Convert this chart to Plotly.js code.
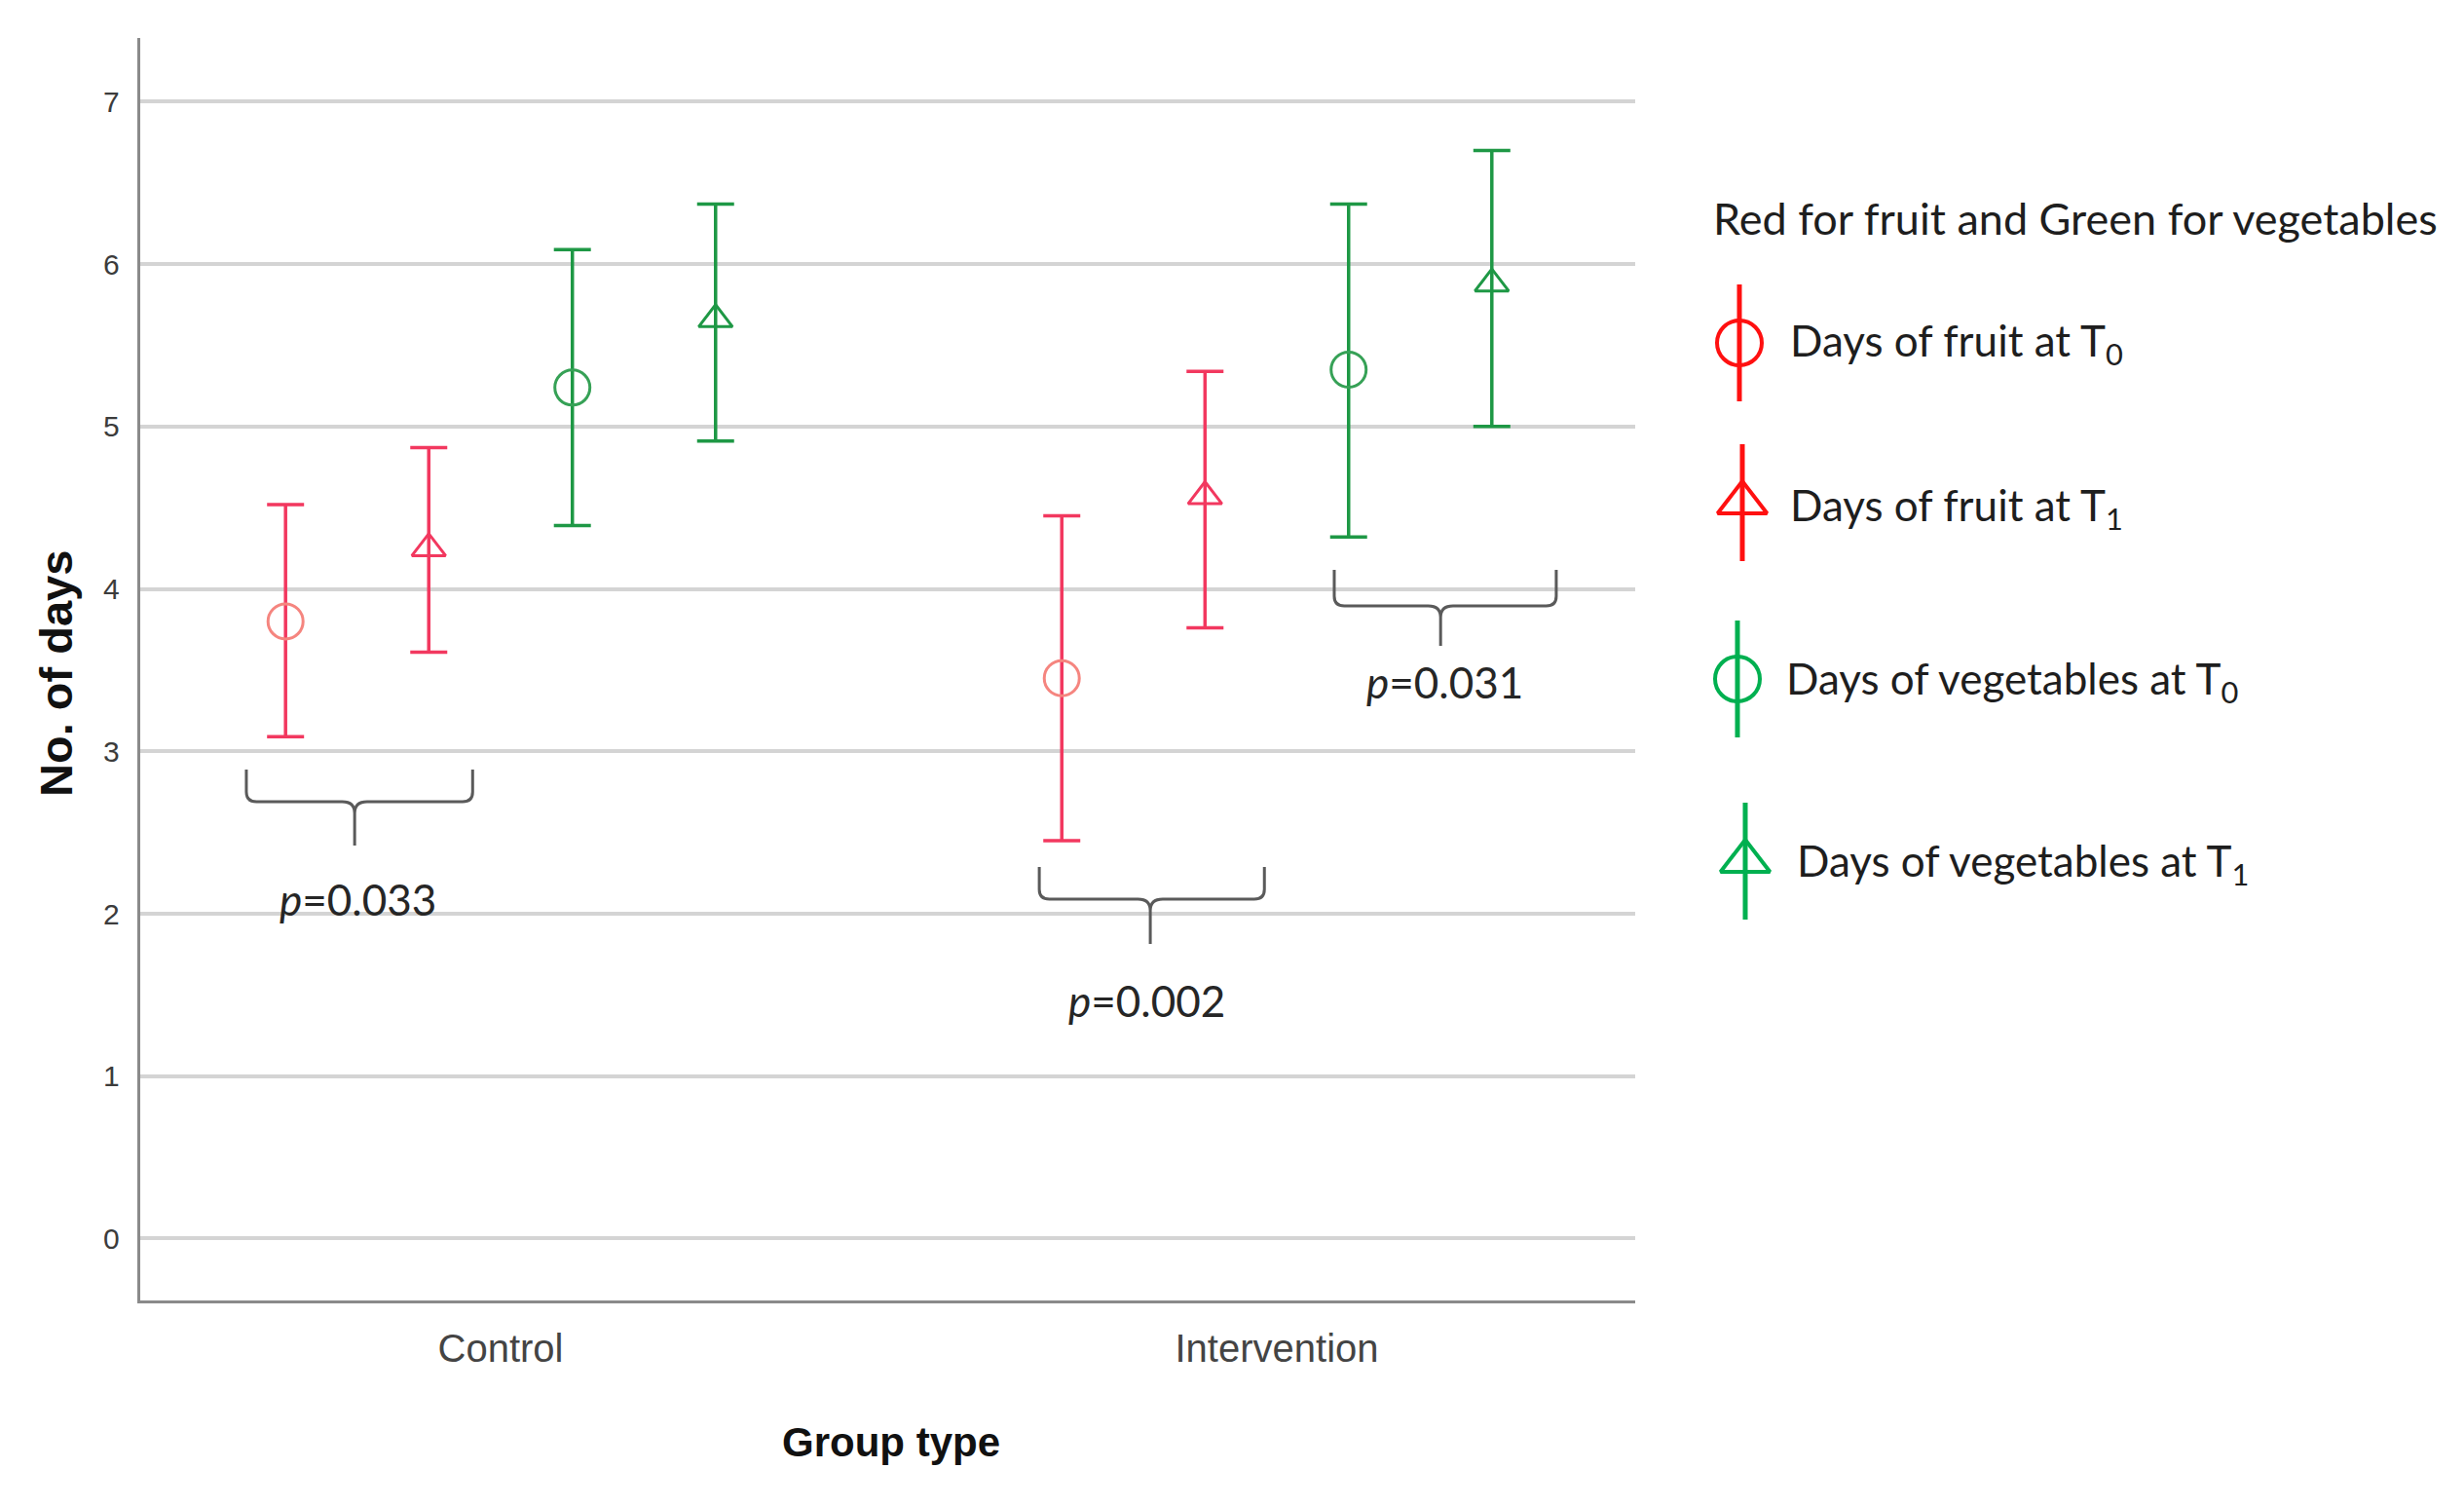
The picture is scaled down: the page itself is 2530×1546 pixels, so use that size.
<!DOCTYPE html>
<html><head><meta charset="utf-8">
<script src="https://cdn.plot.ly/plotly-3.0.1.min.js"></script>
<style>html,body{margin:0;padding:0;background:#fff}#chart{width:2530px;height:1546px}</style>
</head><body><div id="chart"></div>
<script>
// ---------------- data ----------------
const groups = ['Control', 'Intervention'];
const seriesLabels = ['Days of fruit at T<sub>0</sub>', 'Days of fruit at T<sub>1</sub>',
                      'Days of vegetables at T<sub>0</sub>', 'Days of vegetables at T<sub>1</sub>'];
const legendTitle = 'Red for fruit and Green for vegetables';
const fruitT0Mean  = [3.80, 3.45];
const fruitT0Lower = [3.09, 2.45];
const fruitT0Upper = [4.52, 4.45];
const fruitT1Mean  = [4.25, 4.57];
const fruitT1Lower = [3.61, 3.76];
const fruitT1Upper = [4.87, 5.34];
const vegT0Mean    = [5.24, 5.35];
const vegT0Lower   = [4.39, 4.32];
const vegT0Upper   = [6.09, 6.37];
const vegT1Mean    = [5.66, 5.88];
const vegT1Lower   = [4.91, 5.00];
const vegT1Upper   = [6.37, 6.70];
const yTicks = [0, 1, 2, 3, 4, 5, 6, 7];
const pLabels = ['0.033', '0.002', '0.031'];
const xTitle = 'Group type';
const yTitle = 'No. of days';

// ---------------- layout / style ----------------
const W = 2530, H = 1546;
const PL = 143.6, PR = 1679, PT = 39.4, PB = 1335;
const offsets = [-0.277, -0.0925, 0.0925, 0.277];
const fruitLine = '#f2385f', vegLine = '#1e9845';
const series = [
  {mean: fruitT0Mean, lo: fruitT0Lower, hi: fruitT0Upper, sym: 'circle-open', size: 36, mc: '#f5857f', lc: fruitLine},
  {mean: fruitT1Mean, lo: fruitT1Lower, hi: fruitT1Upper, sym: 'triangle-up-open', size: 30, mc: fruitLine, lc: fruitLine},
  {mean: vegT0Mean, lo: vegT0Lower, hi: vegT0Upper, sym: 'circle-open', size: 36, mc: '#36a156', lc: vegLine},
  {mean: vegT1Mean, lo: vegT1Lower, hi: vegT1Upper, sym: 'triangle-up-open', size: 30, mc: vegLine, lc: vegLine}
];

const traces = series.map((s, i) => ({
  type: 'scatter', mode: 'markers', xaxis: 'x', yaxis: 'y',
  x: groups.map((g, gi) => gi + offsets[i]),
  y: s.mean,
  name: seriesLabels[i],
  showlegend: false,
  marker: {symbol: s.sym, size: s.size, color: s.mc, line: {width: 3, color: s.mc}},
  error_y: {type: 'data', symmetric: false,
            array: s.mean.map((m, k) => s.hi[k] - m),
            arrayminus: s.mean.map((m, k) => m - s.lo[k]),
            color: s.lc, thickness: 3.5, width: 19},
  hoverinfo: 'skip'
}));

// legend glyphs (pixel coordinates on an invisible full-figure axis pair)
const legendGlyph = [
  {x: 1786, y: 352, tx: 1836, ty: 352, sym: 'circle-open', size: 46, c: '#ff1010'},
  {x: 1789, y: 516, tx: 1836, ty: 521, sym: 'triangle-up-open', size: 44, c: '#ff1010'},
  {x: 1784, y: 697, tx: 1832, ty: 699, sym: 'circle-open', size: 46, c: '#00b050'},
  {x: 1792, y: 884, tx: 1843, ty: 886, sym: 'triangle-up-open', size: 44, c: '#00b050'}
];
legendGlyph.forEach((g) => {
  traces.push({
    type: 'scatter', mode: 'markers', xaxis: 'x2', yaxis: 'y2',
    x: [g.x], y: [g.y], showlegend: false, hoverinfo: 'skip', cliponaxis: false,
    marker: {symbol: g.sym, size: g.size, color: g.c, line: {width: 4, color: g.c}},
    error_y: {type: 'constant', value: 60, color: g.c, thickness: 5, width: 0}
  });
});

const braces = [
  {x0: -0.3275, x1: -0.036, xs: -0.188, yTop: 2.888, yMid: 2.69, yBot: 2.42, tx: -0.184, ty: 2.09},
  {x0: 0.694, x1: 0.984, xs: 0.837, yTop: 2.288, yMid: 2.09, yBot: 1.814, tx: 0.833, ty: 1.466},
  {x0: 1.074, x1: 1.360, xs: 1.211, yTop: 4.118, yMid: 3.896, yBot: 3.65, tx: 1.216, ty: 3.428}
];
function bracePath(b) {
  const rx = 0.013, ry = 0.06, cx = 0.016, cy = 0.07;
  return `M ${b.x0},${b.yTop} L ${b.x0},${b.yMid + ry} Q ${b.x0},${b.yMid} ${b.x0 + rx},${b.yMid} ` +
         `L ${b.xs - cx},${b.yMid} Q ${b.xs},${b.yMid} ${b.xs},${b.yMid - cy} L ${b.xs},${b.yBot} ` +
         `M ${b.xs},${b.yMid - cy} Q ${b.xs},${b.yMid} ${b.xs + cx},${b.yMid} ` +
         `L ${b.x1 - rx},${b.yMid} Q ${b.x1},${b.yMid} ${b.x1},${b.yMid + ry} L ${b.x1},${b.yTop}`;
}
const shapes = braces.map(b => ({
  type: 'path', xref: 'x', yref: 'y', path: bracePath(b),
  line: {color: '#5a5a5a', width: 3}, layer: 'above'
}));

const legendFont = {family: 'Lato, "Open Sans", sans-serif', size: 44, color: '#1e1e1e'};
const annotations = [];
braces.forEach((b, i) => annotations.push({
  xref: 'x', yref: 'y', x: b.tx, y: b.ty, text: '<i>p</i>=' + pLabels[i],
  showarrow: false, xanchor: 'center', yanchor: 'middle',
  font: {family: 'Lato, "Open Sans", sans-serif', size: 44, color: '#262626'}
}));
annotations.push({
  xref: 'paper', yref: 'paper', x: 57 / W, y: 1 - 692 / H, text: '<b>' + yTitle + '</b>',
  textangle: -90, showarrow: false, xanchor: 'center', yanchor: 'middle',
  font: {family: '"Liberation Sans", Arial, sans-serif', size: 47, color: '#111'}
});
annotations.push({
  xref: 'paper', yref: 'paper', x: 915 / W, y: 1 - 1480 / H, text: '<b>' + xTitle + '</b>',
  showarrow: false, xanchor: 'center', yanchor: 'middle',
  font: {family: '"Liberation Sans", Arial, sans-serif', size: 42, color: '#111'}
});
annotations.push({
  xref: 'paper', yref: 'paper', x: 1757 / W, y: 1 - 224 / H, text: legendTitle,
  showarrow: false, xanchor: 'left', yanchor: 'middle', font: Object.assign({}, legendFont, {size: 45})
});
legendGlyph.forEach((g, i) => annotations.push({
  xref: 'paper', yref: 'paper', x: g.tx / W, y: 1 - g.ty / H, text: seriesLabels[i],
  showarrow: false, xanchor: 'left', yanchor: 'middle', font: legendFont
}));

const layout = {
  width: W, height: H,
  margin: {l: 0, r: 0, t: 0, b: 0, pad: 0},
  paper_bgcolor: '#ffffff', plot_bgcolor: 'rgba(0,0,0,0)',
  showlegend: false,
  xaxis: {
    domain: [PL / W, PR / W], range: [-0.4647, 1.4617], anchor: 'y',
    tickmode: 'array', tickvals: groups.map((g, i) => i), ticktext: groups,
    showgrid: false, zeroline: false, showline: true, linecolor: '#8a8a8a', linewidth: 3,
    ticks: '', ticklabelstandoff: 12,
    tickfont: {family: '"Liberation Sans", Arial, sans-serif', size: 40, color: '#444'}
  },
  yaxis: {
    domain: [1 - PB / H, 1 - PT / H], range: [-0.381, 7.39], anchor: 'x',
    tickmode: 'array', tickvals: yTicks, ticktext: yTicks.map(String),
    showgrid: true, gridcolor: '#d4d4d4', gridwidth: 4,
    zeroline: false, showline: true, linecolor: '#8a8a8a', linewidth: 3,
    ticks: '', ticklabelstandoff: 12,
    tickfont: {family: '"Liberation Sans", Arial, sans-serif', size: 30, color: '#3c3c3c'}
  },
  xaxis2: {domain: [0, 1], range: [0, W], anchor: 'y2', visible: false, fixedrange: true},
  yaxis2: {domain: [0, 1], range: [H, 0], anchor: 'x2', visible: false, fixedrange: true},
  shapes: shapes,
  annotations: annotations
};

Plotly.newPlot('chart', traces, layout, {staticPlot: true, displayModeBar: false});
</script>
</body></html>
